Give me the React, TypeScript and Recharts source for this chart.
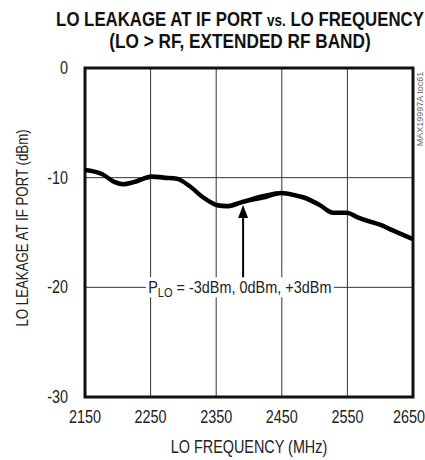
import React from 'react';
import {
  LineChart,
  Line,
  XAxis,
  YAxis,
  CartesianGrid,
  ReferenceArea,
  ReferenceLine,
  ReferenceDot,
} from 'recharts';

// LO frequency (MHz)
const freq = [2150, 2177, 2195, 2208, 2225, 2252, 2270, 2290, 2310, 2330, 2351, 2366, 2391, 2421, 2450, 2470, 2483, 2508, 2528, 2549, 2565, 2584, 2600, 2615, 2650];
// LO leakage (dBm) for PLO = -3, 0, +3 dBm
const leakM3 = [-9.2, -9.6, -10.3, -10.5, -10.3, -9.8, -9.9, -10.0, -10.7, -11.7, -12.4, -12.5, -12.1, -11.6, -11.3, -11.5, -11.7, -12.4, -13.1, -13.1, -13.5, -13.9, -14.2, -14.6, -15.5];
const leak0 = [-9.3, -9.7, -10.4, -10.6, -10.4, -9.9, -10.0, -10.1, -10.8, -11.8, -12.5, -12.6, -12.2, -11.7, -11.4, -11.6, -11.8, -12.5, -13.2, -13.2, -13.6, -14.0, -14.3, -14.7, -15.6];
const leakP3 = [-9.4, -9.8, -10.5, -10.7, -10.5, -10.0, -10.1, -10.2, -10.9, -11.9, -12.6, -12.7, -12.3, -11.9, -11.5, -11.7, -11.9, -12.6, -13.3, -13.3, -13.7, -14.1, -14.4, -14.8, -15.7];

const xTicks = [2150, 2250, 2350, 2450, 2550, 2650];
const yTicks = [0, -10, -20, -30];

const data = freq.map((f, i) => ({ f, m3: leakM3[i], z: leak0[i], p3: leakP3[i] }));

const FONT = '"Liberation Sans", Arial, sans-serif';
const NARROW = 0.8;

// no narrow font installed, so squeeze the regular one
const XTick = (props: any) => {
  const { x, y, payload } = props;
  return (
    <g transform={`translate(${x},${y})`}>
      <text transform={`scale(${NARROW},1)`} y={22} textAnchor="middle" fontFamily={FONT} fontSize={18} fill="#222">
        {payload.value}
      </text>
    </g>
  );
};

const YTick = (props: any) => {
  const { x, y, payload } = props;
  return (
    <g transform={`translate(${x},${y})`}>
      <text transform={`scale(${NARROW},1)`} y={6} textAnchor="end" fontFamily={FONT} fontSize={18} fill="#222">
        {payload.value}
      </text>
    </g>
  );
};

const ArrowHead = (props: any) => {
  const { cx, cy } = props;
  return <path d={`M${cx},${cy} L${cx - 5},${cy + 13} L${cx + 5},${cy + 13} Z`} fill="#000" />;
};

const NoteLabel = (props: any) => {
  const { cx, cy } = props;
  return (
    <g>
      <rect x={cx - 94} y={cy - 10} width={188} height={20} fill="#fff" />
      <g transform={`translate(${cx},${cy + 6})`}>
        <text transform="scale(0.85,1)" textAnchor="middle" fontFamily={FONT} fontSize={17} fill="#222">
          P<tspan fontSize={13} dy={4}>LO</tspan>
          <tspan dy={-4}> = -3dBm, 0dBm, +3dBm</tspan>
        </text>
      </g>
    </g>
  );
};

export default function App() {
  return (
    <div style={{ position: 'absolute', left: 0, top: 0, width: 425, height: 460, background: '#fff', fontFamily: FONT, overflow: 'hidden' }}>
      <div style={{ position: 'absolute', left: 240, top: 20, transform: 'translate(-50%, -50%) scaleX(0.84)', whiteSpace: 'nowrap', fontWeight: 'bold', fontSize: 20, lineHeight: '24px', color: '#111' }}>
        LO LEAKAGE AT IF PORT <span style={{ fontSize: 16 }}>vs.</span> LO FREQUENCY
      </div>
      <div style={{ position: 'absolute', left: 240, top: 41, transform: 'translate(-50%, -50%) scaleX(0.86)', whiteSpace: 'nowrap', fontWeight: 'bold', fontSize: 20, lineHeight: '24px', color: '#111' }}>
        (LO &gt; RF, EXTENDED RF BAND)
      </div>
      <LineChart
        width={425}
        height={460}
        data={data}
        margin={{ top: 68, right: 12, bottom: 0, left: 25 }}
        style={{ position: 'absolute', left: 0, top: 0 }}
      >
        <CartesianGrid stroke="#333" strokeWidth={1} horizontalValues={[-10, -20]} verticalValues={[2250, 2350, 2450, 2550]} />
        <XAxis
          dataKey="f"
          type="number"
          domain={[2150, 2650]}
          ticks={xTicks}
          axisLine={false}
          tickLine={false}
          tick={<XTick />}
          tickSize={0}
          tickMargin={4}
          height={63}
          allowDataOverflow
        />
        <YAxis
          type="number"
          domain={[-30, 0]}
          ticks={yTicks}
          axisLine={false}
          tickLine={false}
          tick={<YTick />}
          tickSize={0}
          tickMargin={17}
          width={60}
        />
        <ReferenceLine
          segment={[{ x: 2391, y: -19.4 }, { x: 2391, y: -13.4 }]}
          stroke="#000"
          strokeWidth={2}
        />
        <ReferenceDot x={2391} y={-12.5} r={0} shape={ArrowHead} />
        <ReferenceDot x={2386} y={-20} r={0} shape={NoteLabel} />
        <Line dataKey="m3" type="monotone" stroke="#000" strokeWidth={2.5} dot={false} isAnimationActive={false} />
        <Line dataKey="z" type="monotone" stroke="#000" strokeWidth={2.5} dot={false} isAnimationActive={false} />
        <Line dataKey="p3" type="monotone" stroke="#000" strokeWidth={2.5} dot={false} isAnimationActive={false} />
        <ReferenceArea x1={2150} x2={2650} y1={-30} y2={0} fill="none" stroke="#111" strokeWidth={3} />
      </LineChart>
      <div style={{ position: 'absolute', left: 23, top: 228, transform: 'translate(-50%, -50%) rotate(-90deg) scaleX(0.78)', whiteSpace: 'nowrap', fontSize: 17, color: '#222' }}>
        LO LEAKAGE AT IF PORT (dBm)
      </div>
      <div style={{ position: 'absolute', left: 249, top: 447, transform: 'translate(-50%, -50%) scaleX(0.8)', whiteSpace: 'nowrap', fontSize: 18, color: '#222' }}>
        LO FREQUENCY (MHz)
      </div>
      <div style={{ position: 'absolute', left: 420, top: 109, transform: 'translate(-50%, -50%) rotate(-90deg)', whiteSpace: 'nowrap', fontSize: 9, color: '#666', fontFamily: FONT }}>
        MAX19997A toc61
      </div>
    </div>
  );
}
